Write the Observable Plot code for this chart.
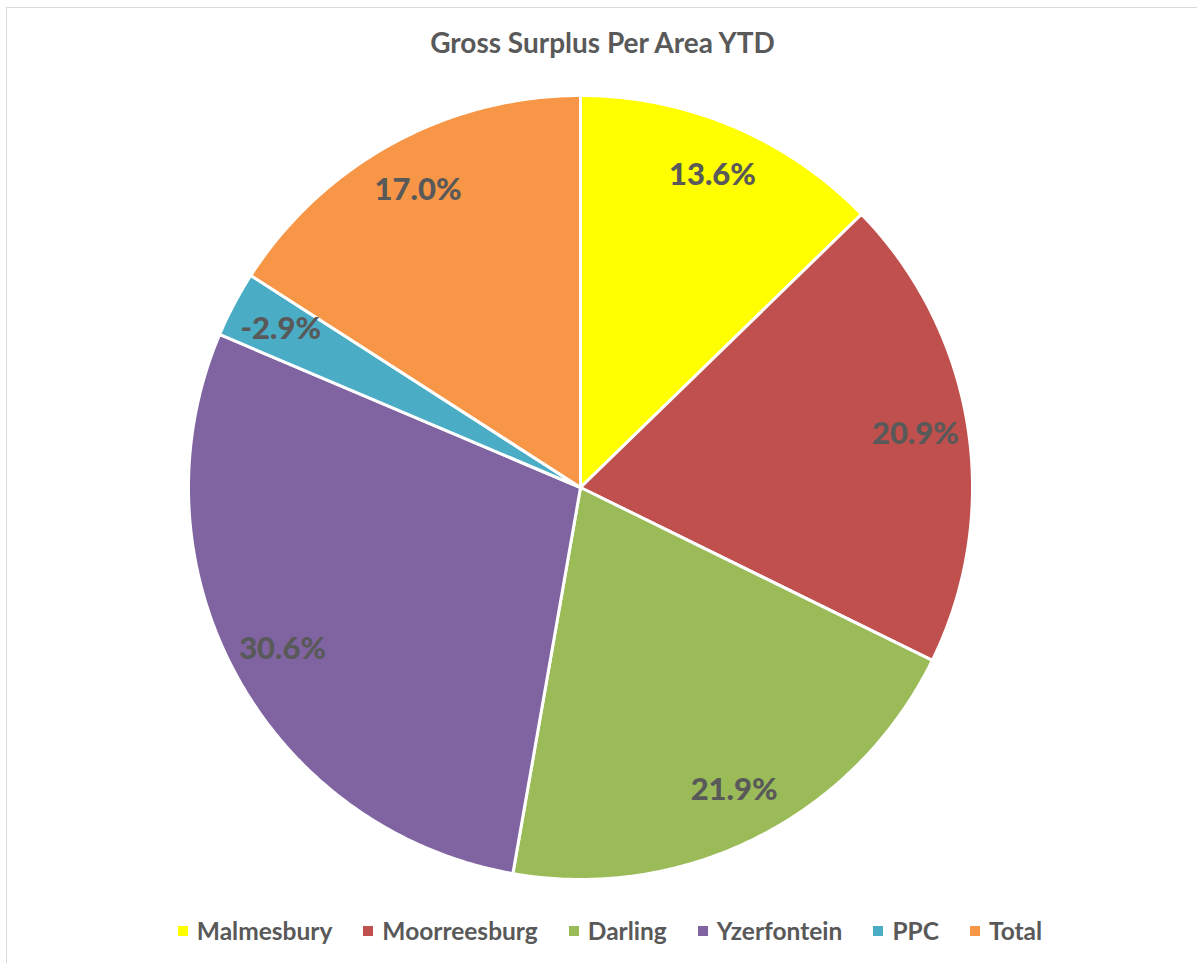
<!DOCTYPE html>
<html>
<head>
<meta charset="utf-8">
<script src="https://cdn.jsdelivr.net/npm/d3@7"></script>
<script src="https://cdn.jsdelivr.net/npm/@observablehq/plot@0.6"></script>
<style>
  html, body { margin: 0; padding: 0; background: #fff; }
  #wrap { position: relative; width: 1197px; height: 963px; overflow: hidden; font-family: Lato, "Open Sans", sans-serif; }
  #frame { position: absolute; left: 6px; top: 7px; width: 1300px; height: 1100px; border: 1px solid #d9d9d9; box-sizing: border-box; }
  #title { position: absolute; left: 0; width: 1205px; top: 25px; text-align: center; font-size: 28px; font-weight: bold; color: #595959; }
  #chart { position: absolute; left: 0; top: 0; }
  #legend { position: absolute; left: 0; width: 1220px; top: 916px; display: flex; justify-content: center; gap: 0 31px; font-size: 24.5px; font-weight: bold; color: #595959; }
  .item { display: flex; align-items: center; }
  .sw { width: 10px; height: 10px; margin-right: 9px; }
</style>
</head>
<body>
<div id="wrap">
  <div id="frame"></div>
  <div id="chart"></div>
  <div id="title">Gross Surplus Per Area YTD</div>
  <div id="legend"></div>
</div>
<script>
const title = "Gross Surplus Per Area YTD";
const categories = ["Malmesbury", "Moorreesburg", "Darling", "Yzerfontein", "PPC", "Total"];
const values = [13.6, 20.9, 21.9, 30.6, -2.9, 17.0];
const colors = ["#FFFF00", "#C0504D", "#9BBB59", "#8064A2", "#4BACC6", "#F79646"];

const total = d3.sum(values, v => Math.abs(v));
let acc = 0;
const slices = categories.map((c, i) => {
  const a0 = acc / total * 2 * Math.PI;
  acc += Math.abs(values[i]);
  const a1 = acc / total * 2 * Math.PI;
  return {cat: c, value: values[i], a0, a1};
});

const pts = [];
for (const s of slices) {
  pts.push({cat: s.cat, x: 0, y: 0});
  const n = Math.max(2, Math.ceil((s.a1 - s.a0) / (Math.PI / 360)));
  for (let k = 0; k <= n; k++) {
    const a = s.a0 + (s.a1 - s.a0) * k / n;
    pts.push({cat: s.cat, x: Math.sin(a), y: Math.cos(a)});
  }
  pts.push({cat: s.cat, x: 0, y: 0});
}

const labelR = 0.865;
const labels = slices.map(s => {
  const a = (s.a0 + s.a1) / 2;
  return {cat: s.cat, x: labelR * Math.sin(a), y: labelR * Math.cos(a), text: s.value.toFixed(1) + "%"};
});

const plot = Plot.plot({
  width: 1197,
  height: 963,
  margin: 0,
  style: {background: "transparent", fontFamily: "Lato, 'Open Sans', sans-serif"},
  x: {domain: [-1, 1], range: [188, 972], axis: null},
  y: {domain: [-1, 1], range: [879, 95], axis: null},
  color: {domain: categories, range: colors},
  marks: [
    Plot.line(pts, {x: "x", y: "y", z: "cat", fill: "cat", stroke: "white", strokeWidth: 3, strokeLinejoin: "round"}),
    Plot.text(labels, {x: "x", y: "y", text: "text", fill: "#595959", fontSize: 31, fontWeight: "900"})
  ]
});
document.getElementById("chart").appendChild(plot);

const legend = document.getElementById("legend");
categories.forEach((c, i) => {
  const it = document.createElement("div");
  it.className = "item";
  const sw = document.createElement("div");
  sw.className = "sw";
  sw.style.background = colors[i];
  const tx = document.createElement("span");
  tx.textContent = c;
  it.appendChild(sw);
  it.appendChild(tx);
  legend.appendChild(it);
});
</script>
</body>
</html>
